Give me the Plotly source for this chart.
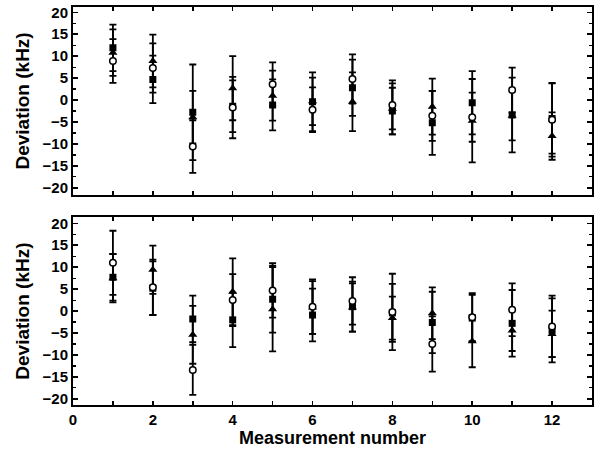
import plotly.graph_objects as go

x = list(range(1, 13))

# Top panel
sq_top = [11.9, 4.7, -2.8, -1.4, -1.1, -0.4, 2.8, -2.5, -5.2, -0.6, -3.4, -4.2]
sq_top_err = [5.3, 5.4, 10.9, 5.9, 5.8, 6.7, 6.4, 5.3, 7.3, 7.2, 8.5, 8.0]
tri_top = [10.8, 8.9, -3.9, 2.7, 1.0, -0.3, -0.4, -2.0, -1.5, -4.7, -3.6, -8.2]
tri_top_err = [5.3, 6.0, 6.0, 7.3, 5.7, 5.4, 6.7, 5.8, 6.4, 9.5, 5.6, 5.4]
circ_top = [8.9, 7.3, -10.6, -1.7, 3.6, -2.2, 4.8, -1.1, -3.6, -3.9, 2.3, -4.5]
circ_top_err = [5.0, 5.6, 6.0, 7.0, 5.0, 5.1, 5.6, 5.6, 5.7, 5.6, 5.1, 8.4]

# Bottom panel
sq_bot = [7.7, 5.2, -1.8, -2.0, 2.7, -0.9, 1.0, -0.4, -2.6, -1.6, -2.8, -4.4]
sq_bot_err = [5.3, 6.1, 5.3, 6.2, 7.6, 6.0, 5.7, 6.6, 7.0, 5.3, 7.6, 7.3]
tri_bot = [7.5, 9.4, -5.4, 4.4, 0.4, 0.8, 0.8, -1.6, -0.5, -6.9, -4.4, -5.2]
tri_bot_err = [5.5, 5.5, 6.6, 7.6, 9.6, 6.0, 5.5, 4.9, 5.9, 5.9, 4.7, 5.3]
circ_bot = [11.0, 5.4, -13.4, 2.5, 4.7, 1.0, 2.3, -0.2, -7.5, -1.4, 0.3, -3.5]
circ_bot_err = [7.3, 6.3, 5.7, 5.9, 6.2, 6.2, 5.4, 8.7, 6.3, 5.5, 6.0, 7.0]

x_tickvals = list(range(0, 14))
x_ticktext = [str(v) if v % 2 == 0 else "" for v in x_tickvals]
y_tickvals = [20, 15, 10, 5, 0, -5, -10, -15, -20]
y_minor = [17.5, 12.5, 7.5, 2.5, -2.5, -7.5, -12.5, -17.5]

FONT = "Liberation Sans, Arial, sans-serif"

fig = go.Figure()

def add_series(xa, ya, vals, errs, symbol, size, open_marker=False):
    marker = dict(symbol=symbol, size=size, color="black")
    if open_marker:
        marker = dict(symbol=symbol, size=size, color="white",
                      line=dict(color="black", width=1.5))
    fig.add_trace(go.Scatter(
        x=x, y=vals, mode="markers", xaxis=xa, yaxis=ya,
        marker=marker, showlegend=False,
        error_y=dict(type="data", array=errs, visible=True,
                     color="black", thickness=1.8, width=3.5),
    ))

add_series("x", "y", sq_top, sq_top_err, "square", 7)
add_series("x", "y", tri_top, tri_top_err, "triangle-up", 8)
add_series("x", "y", circ_top, circ_top_err, "circle", 6.5, True)
add_series("x2", "y2", sq_bot, sq_bot_err, "square", 7)
add_series("x2", "y2", tri_bot, tri_bot_err, "triangle-up", 8)
add_series("x2", "y2", circ_bot, circ_bot_err, "circle", 6.5, True)

common_x = dict(range=[0, 13], showline=True, linecolor="black", linewidth=2,
                mirror="ticks", ticks="inside", ticklen=4, tickwidth=1.5,
                tickcolor="black", tickvals=x_tickvals, ticktext=x_ticktext,
                showgrid=False, zeroline=False, automargin=False,
                tickfont=dict(family=FONT, size=15, color="black", weight="bold"))
common_y = dict(showline=True, linecolor="black", linewidth=2,
                mirror="ticks", ticks="inside", ticklen=5, tickwidth=1.5,
                tickcolor="black", tickvals=y_tickvals,
                minor=dict(tickvals=y_minor, ticks="inside", ticklen=3,
                           tickwidth=1.2, tickcolor="black"),
                showgrid=False, zeroline=False, automargin=False,
                tickfont=dict(family=FONT, size=15, color="black", weight="bold"),
                title=dict(text="Deviation (kHz)", standoff=8,
                           font=dict(family=FONT, size=19, color="black", weight="bold")))

fig.update_layout(
    width=598, height=451,
    margin=dict(l=73, r=6, t=7, b=46),
    paper_bgcolor="white", plot_bgcolor="white",
    hovermode=False,
    xaxis=dict(common_x, anchor="y", domain=[0, 1], showticklabels=False),
    yaxis=dict(common_y, anchor="x", domain=[0.528, 1], range=[-21.6, 21.2]),
    xaxis2=dict(common_x, anchor="y2", domain=[0, 1],
                title=dict(text="Measurement number", standoff=2,
                           font=dict(family=FONT, size=18, color="black", weight="bold"))),
    yaxis2=dict(common_y, anchor="x2", domain=[0, 0.472], range=[-21.4, 21.4]),
)

fig.write_html("out.html", config={"displayModeBar": False, "staticPlot": True},
               post_script="document.body.style.margin='0';document.body.style.overflow='hidden';")
